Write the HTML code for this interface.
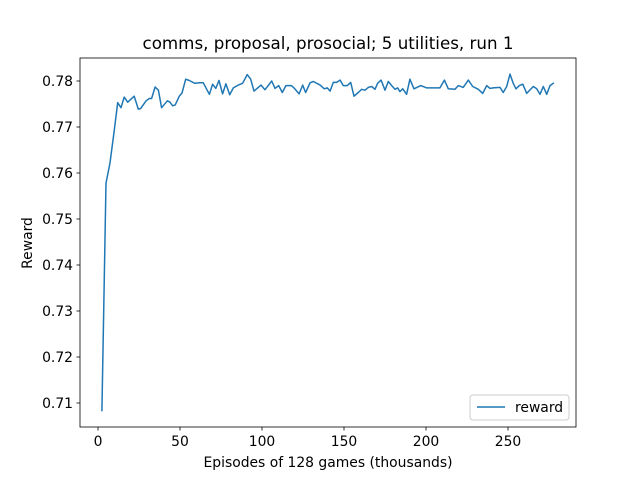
<!DOCTYPE html>
<html><head><meta charset="utf-8"><style>
body{margin:0;background:#fff;}
svg text{font-family:"DejaVu Sans","Liberation Sans",sans-serif;fill:#000;}
</style></head><body>
<svg id="chart" width="640" height="480">
<rect width="640" height="480" fill="#fff"/>
<text x="328" y="49" font-size="16.7" text-anchor="middle">comms, proposal, prosocial; 5 utilities, run 1</text>
<g id="ticks"></g>
<path id="line" fill="none" stroke="#1f77b4" stroke-width="1.5" stroke-linejoin="round"/>
<rect x="80" y="58" width="496" height="369" fill="none" stroke="#000" stroke-width="0.8"/>
<text x="328" y="467" font-size="13.9" text-anchor="middle">Episodes of 128 games (thousands)</text>
<text transform="translate(32,243) rotate(-90)" font-size="13.9" text-anchor="middle">Reward</text>
<g>
<rect x="470" y="395" width="99" height="25" rx="3" fill="#fff" stroke="#ccc" stroke-width="1"/>
<line x1="477" y1="407" x2="505" y2="407" stroke="#1f77b4" stroke-width="1.5"/>
<text x="515" y="412" font-size="13.9">reward</text>
</g>
</svg>
<script>
const xs=[2.4,4.9,7.3,9.8,12,14,16,18.1,22.1,24.6,26,29.3,31.3,32.7,34.8,36.8,38.8,42.3,43.9,45.5,47.1,49.6,51.2,53.5,55.7,59,62.2,64.2,66.3,67.9,69.9,71.8,73.8,76,78,80.3,82.5,85.5,88.2,91,93.1,95.1,99.4,101.8,105.9,107.9,110.2,112.4,114.6,117.9,119.5,122.6,124.8,126.6,129.3,131.3,135.4,138,139.8,141.5,143.5,145.5,147.6,149.6,152,154.1,156.1,158.7,160.8,162.8,164.8,166.9,168.9,170.5,172.6,175,177,179.1,181.1,182.7,184.1,185.8,188.2,190.2,192.7,196.8,200.4,208.5,211.2,213.6,217.7,219.7,222.7,225.8,228.5,231.9,234.6,237,239,241,245.1,247.1,249.2,251.2,253.2,254.9,256.9,259,261.4,265.4,267.5,269.5,271.5,273.6,275.6,278];
const rewards=[0.7082,0.7578,0.7622,0.769,0.7753,0.7742,0.7765,0.7754,0.7767,0.7739,0.774,0.7757,0.7762,0.7762,0.7787,0.778,0.7742,0.7757,0.7754,0.7746,0.7748,0.7767,0.7774,0.7804,0.7801,0.7795,0.7796,0.7796,0.7782,0.7771,0.7793,0.7784,0.7801,0.7772,0.7794,0.777,0.7785,0.7791,0.7795,0.7814,0.7804,0.7778,0.7791,0.7781,0.78,0.7784,0.779,0.7775,0.779,0.779,0.7785,0.7772,0.7791,0.7775,0.7796,0.7799,0.7791,0.7783,0.7785,0.7778,0.7797,0.7797,0.7802,0.779,0.779,0.7797,0.7767,0.7775,0.7782,0.778,0.7786,0.7788,0.7782,0.7795,0.7802,0.778,0.7799,0.779,0.7782,0.7785,0.7777,0.7783,0.7771,0.7804,0.7783,0.779,0.7785,0.7785,0.7802,0.7783,0.7782,0.779,0.7786,0.7802,0.7788,0.7782,0.7773,0.779,0.7784,0.7785,0.7786,0.7775,0.7788,0.7815,0.7795,0.7783,0.779,0.7793,0.7773,0.7788,0.7783,0.7771,0.7788,0.7771,0.779,0.7796];
const xTicks=[0,50,100,150,200,250];
const yTicks=[0.71,0.72,0.73,0.74,0.75,0.76,0.77,0.78];
const sx=v=>98+v*1.64;
const sy=v=>81+(0.78-v)*4600;
const NS="http://www.w3.org/2000/svg";
const g=document.getElementById('ticks');
function mk(tag,attrs,txt){const e=document.createElementNS(NS,tag);for(const k in attrs)e.setAttribute(k,attrs[k]);if(txt!==undefined)e.textContent=txt;g.appendChild(e);return e;}
xTicks.forEach(t=>{
 const l=mk('line',{x1:sx(t),x2:sx(t),y1:427,y2:430.5,stroke:'#000','stroke-width':0.8});
 
 
 const tx=mk('text',{x:sx(t),y:446,'font-size':13.9,'text-anchor':'middle'},String(t));
 
 
});
yTicks.forEach(t=>{
 const l=mk('line',{x1:76.5,x2:80,y1:sy(t),y2:sy(t),stroke:'#000','stroke-width':0.8});
 
 
 const tx=mk('text',{x:73,y:sy(t)+5,'font-size':13.9,'text-anchor':'end'},t.toFixed(2));
 
 
});
document.getElementById('line').setAttribute('d',xs.map((x,i)=>(i?'L':'M')+sx(x).toFixed(1)+' '+sy(rewards[i]).toFixed(1)).join(' '));
</script>
</body></html>
